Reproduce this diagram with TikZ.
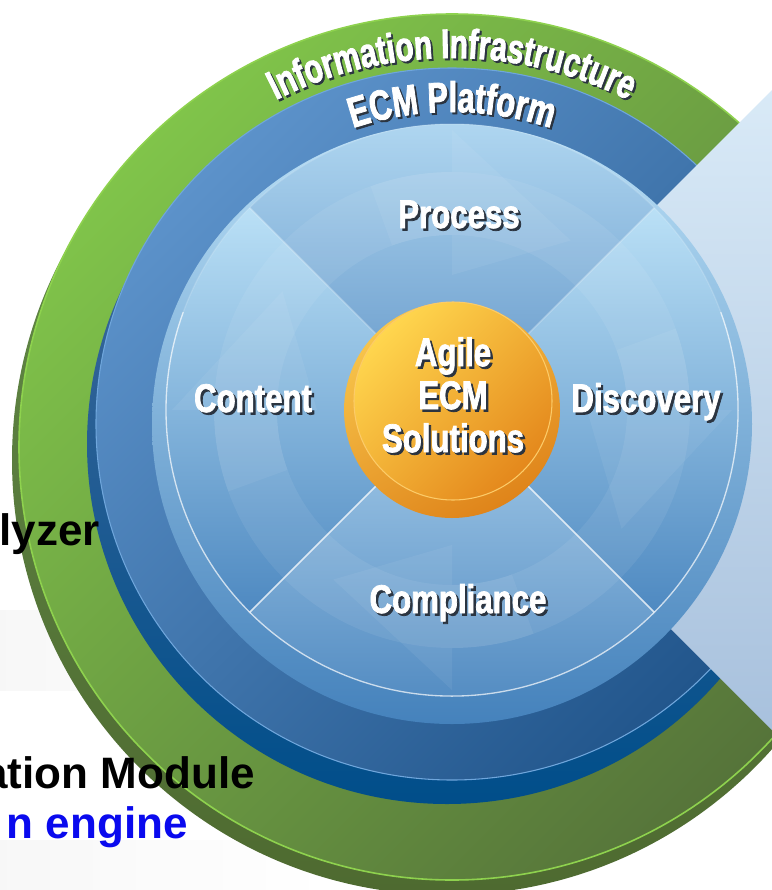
\documentclass[tikz,border=0pt]{standalone}
\usepackage{fontspec}
\setmainfont{Liberation Sans}
\newfontfamily\condfont{Liberation Sans}[FakeStretch=0.78, BoldFeatures={FakeBold=1.8}]
\newfontfamily\arccond{Liberation Sans}[FakeStretch=0.72, BoldFeatures={FakeBold=1.8}]
\usetikzlibrary{decorations.text}
\definecolor{gsideT}{HTML}{66904C}
\definecolor{gsideB}{HTML}{4E6A30}
\definecolor{gfaceT}{HTML}{80C44A}
\definecolor{gfaceB}{HTML}{56743A}
\definecolor{gline}{HTML}{8ED24E}
\definecolor{bsideT}{HTML}{4C6E9E}
\definecolor{bsideB}{HTML}{004E8A}
\definecolor{bfaceT}{HTML}{5C92CA}
\definecolor{bfaceB}{HTML}{22568C}
\definecolor{bline}{HTML}{6FA6DC}
\definecolor{chevT}{HTML}{D9EAF7}
\definecolor{chevB}{HTML}{A8C1DD}
\definecolor{rimT}{HTML}{B8DEF5}
\definecolor{rimB}{HTML}{4582BC}
\definecolor{procT}{HTML}{B6DCF4}
\definecolor{procB}{HTML}{6396C8}
\definecolor{contT}{HTML}{BAE0F6}
\definecolor{contB}{HTML}{4E89C1}
\definecolor{compT}{HTML}{A4CBE9}
\definecolor{compB}{HTML}{4D87BF}
\definecolor{orOutT}{HTML}{F8C64C}
\definecolor{orOutB}{HTML}{DF841A}
\definecolor{orFaceT}{HTML}{FFD64E}
\definecolor{orFaceB}{HTML}{E4881C}
\definecolor{orLine}{HTML}{FCCB68}
\definecolor{shadowc}{HTML}{2B3440}
\definecolor{engineblue}{HTML}{0A0AEE}
\newcommand\shtxt[1]{\makebox[0pt][l]{\hspace{1.8pt}\raisebox{-1.8pt}{\color{shadowc}#1}}#1}
\newcommand\arcfontA{\arccond\bfseries\fontsize{31}{31}\selectfont}
\newcommand\arcfontB{\arccond\bfseries\fontsize{32}{32}\selectfont}
\begin{document}
\begin{tikzpicture}[x=0.75pt,y=-0.75pt,
  lbl/.style={text=white, font=\condfont\bfseries\fontsize{30}{32.25}\selectfont, align=center, inner sep=0pt},
  sidetext/.style={font=\bfseries\fontsize{33}{33}\selectfont, inner sep=0pt, anchor=base east},
  xline/.style={white, line width=1.1pt},
  arrowband/.style={white, opacity=0.06}]
\useasboundingbox (0,0) rectangle (772,890);
\clip (0,0) rectangle (772,890);
\fill[white] (0,0) rectangle (772,890);
% faint background
\shade[left color=black!3, right color=white] (0,610) rectangle (300,690);
\shade[left color=black!3, right color=white] (0,840) rectangle (330,890);

% Information Infrastructure ring (green)
\shade[top color=gsideT, bottom color=gsideB] (447,460) circle[radius=435];
\shade[top color=gfaceT, bottom color=gfaceB, shading angle=45] (452,447) circle[radius=433];
\draw[gline, line width=1.2pt] (452,447) circle[radius=433];

% ECM Platform ring (blue)
\shade[top color=bsideT, bottom color=bsideB] (447,444) circle[radius=360];
\shade[top color=bfaceT, bottom color=bfaceB, shading angle=45] (452,424) circle[radius=356];
\draw[bline, line width=0.8pt] (452,424) circle[radius=356];

% light chevron at right
\shade[top color=chevT, bottom color=chevB] (452,410) -- (772,90) -- (772,730) -- cycle;

% inner disk
\shade[top color=rimT, bottom color=rimB] (452,424) circle[radius=300];
\begin{scope}[shift={(452,410)}]
  \shade[top color=procT, bottom color=procB] (0,0) -- (225:286) arc[start angle=225, end angle=315, radius=286] -- cycle;
  \shade[top color=contT, bottom color=contB] (0,0) -- (135:286) arc[start angle=135, end angle=225, radius=286] -- cycle;
  \shade[top color=contT, bottom color=contB] (0,0) -- (-45:286) arc[start angle=-45, end angle=45, radius=286] -- cycle;
  \shade[top color=compT, bottom color=compB] (0,0) -- (45:286) arc[start angle=45, end angle=135, radius=286] -- cycle;
  \fill[white, opacity=0.07, even odd rule] (0,0) circle[radius=238] (0,0) circle[radius=175];
  \foreach \q in {45,135,225,315}{
    \fill[arrowband] ({\q+25}:175) arc[start angle=\q+25, end angle=\q+45, radius=175]
      -- ({\q+45}:135) -- ({\q+80}:207) -- ({\q+45}:280) -- ({\q+45}:238)
      arc[start angle=\q+45, end angle=\q+25, radius=238] -- cycle;
  }
  \draw[xline, opacity=0.75] (45:106) -- (45:286);
  \draw[xline, opacity=0.75] (135:106) -- (135:286);
  \draw[xline, opacity=0.25] (225:106) -- (225:286);
  \draw[xline, opacity=0.25] (315:106) -- (315:286);
  \draw[white, opacity=0.7, line width=1pt] (-20:286) arc[start angle=-20, end angle=200, radius=286];
  \draw[white, opacity=0.15, line width=1pt] (200:286) arc[start angle=200, end angle=340, radius=286];
\end{scope}

% orange centre
\shade[top color=orOutT, bottom color=orOutB, shading angle=30] (452,410) circle[radius=108];
\shade[top color=orFaceT, bottom color=orFaceB, shading angle=45] (453,401) circle[radius=99];
\draw[orLine, line width=0.8pt] (453,401) circle[radius=99];

% quadrant labels
\node[lbl, anchor=base] (process) at (459,228) {\shtxt{Process}};
\node[lbl, anchor=base] (content) at (253,412) {\shtxt{Content}};
\node[lbl, anchor=base] (discovery) at (646,412) {\shtxt{Discovery}};
\node[lbl, anchor=base] (compliance) at (458,613) {\shtxt{Compliance}};
\node[lbl, anchor=center] (agile) at (453,396) {\shtxt{Agile}\\\shtxt{ECM}\\\shtxt{Solutions}};

% curved ring labels
\path[decorate, decoration={text along path, text align=center,
  text={|\arcfontA\color{shadowc}|Information Infrastructure}}]
  (454,449) ++(236:389) arc[start angle=236, end angle=304, radius=389];
\path[decorate, decoration={text along path, text align=center,
  text={|\arcfontA\color{white}|Information Infrastructure}}]
  (452,447) ++(236:389) arc[start angle=236, end angle=304, radius=389];
\path[decorate, decoration={text along path, text align=center,
  text={|\arcfontB\color{shadowc}|ECM Platform}}]
  (454,426) ++(238:312) arc[start angle=238, end angle=302, radius=312];
\path[decorate, decoration={text along path, text align=center,
  text={|\arcfontB\color{white}|ECM Platform}}]
  (452,424) ++(238:312) arc[start angle=238, end angle=302, radius=312];

% side texts (cut off at the left edge)
\node[sidetext] (lyzer) at (100,545) {lyzer};
\node[sidetext] (module) at (255,788) {ation Module};
\node[sidetext, text=engineblue] (engine) at (188,838) {n engine};
\end{tikzpicture}
\end{document}
